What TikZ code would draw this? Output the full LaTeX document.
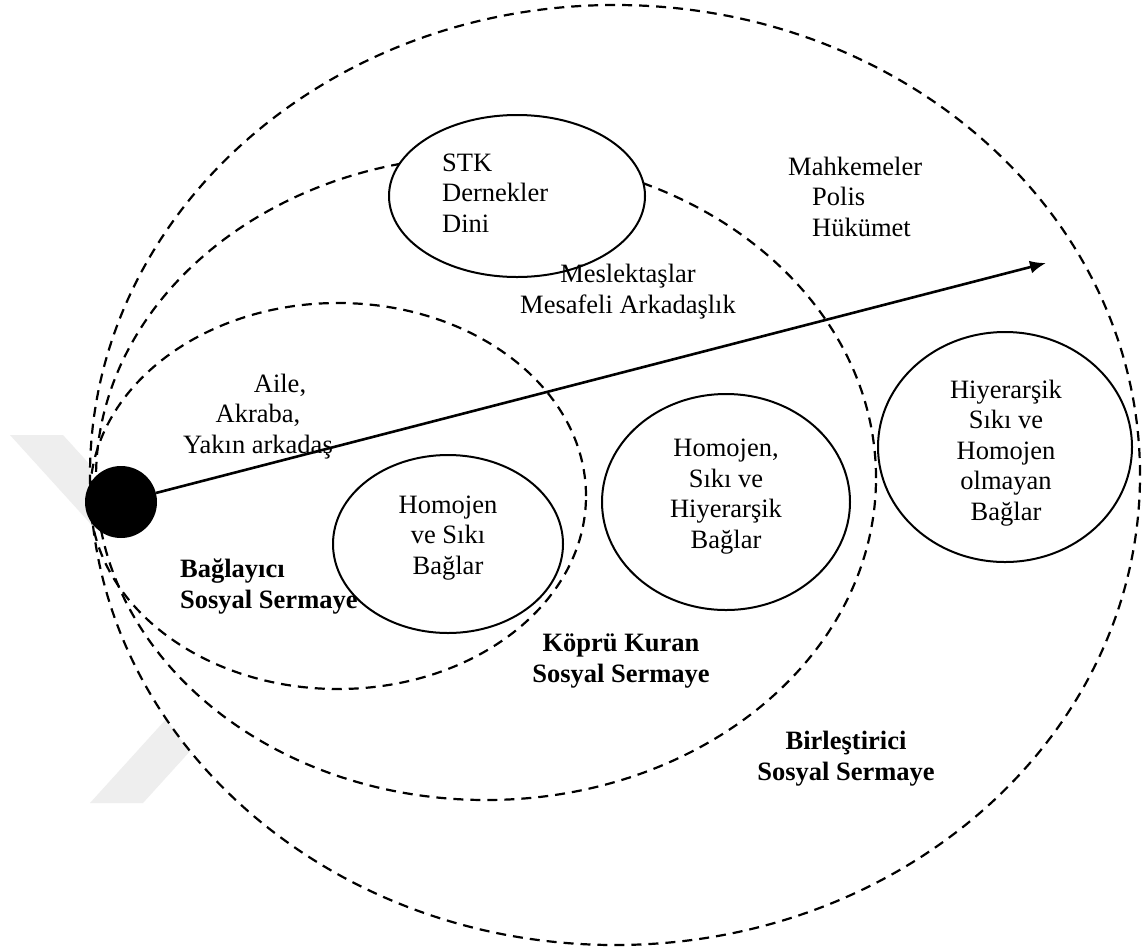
\documentclass[tikz,border=0pt]{standalone}
\usepackage{fontspec}
\setmainfont{Liberation Serif}
\usetikzlibrary{shapes.geometric,arrows.meta}
\definecolor{markgray}{gray}{0.935}
\begin{document}
\begin{tikzpicture}[x=1pt,y=-1pt,
  region/.style={ellipse, draw, dash pattern=on 10pt off 7pt, line width=2.2pt,
                 inner sep=0pt, outer sep=0pt},
  tiebox/.style={ellipse, draw, fill=white, line width=2pt, inner sep=0pt},
  lbl/.style={font=\fontsize{26.5}{30.5}\selectfont, inner sep=0pt, align=center},
  boldlbl/.style={lbl, font=\fontsize{26.5}{30.5}\selectfont\bfseries}]

\useasboundingbox[fill=white] (0,0) rectangle (1142,951);

% faint chevron mark behind the outer region
\fill[markgray] (10,435) -- (63,435) -- (270,663) -- (143,803) -- (90,803) -- (217,663) -- cycle;

% nested regions of social capital
\node[region, fill=white, minimum width=1050pt, minimum height=940pt] (birlestirici) at (615,475) {};
\node[region, minimum width=780pt, minimum height=644pt] (kopru) at (486,478) {};
\node[region, minimum width=496pt, minimum height=386pt] (baglayici) at (338,496) {};

% kinds of ties
\node[tiebox, minimum width=256pt, minimum height=162pt] (stk) at (517,196) {};
\node[tiebox, minimum width=230pt, minimum height=178pt] (homojen) at (448,544) {};
\node[tiebox, minimum width=248pt, minimum height=216pt] (hiyerarsik) at (726,502) {};
\node[tiebox, minimum width=254pt, minimum height=230pt] (olmayan) at (1005,447) {};

% individual and direction of widening ties
\node[circle, fill=black, minimum size=72pt, inner sep=0pt] (birey) at (121,502) {};
\coordinate (yon) at (1046,263);
\draw[line width=2.6pt, -{Latex[length=16pt,width=13pt]}] (birey) -- (yon);

% labels (anchored at the baseline of their last line)
\node[lbl, align=left, anchor=base west] (stktext) at (442,232) {STK\\Dernekler\\Dini};
\node[lbl, align=left, anchor=base west] (devlet) at (788,236) {Mahkemeler\\\hspace*{24pt}Polis\\\hspace*{24pt}Hükümet};
\node[lbl, anchor=base] (meslek) at (628,313) {Meslektaşlar\\Mesafeli Arkadaşlık};
\node[lbl, anchor=base] (aile) at (258,453) {\hspace*{44pt}Aile,\\Akraba,\\Yakın arkadaş};
\node[lbl, anchor=base] (t1) at (448,574) {Homojen\\ve Sıkı\\Bağlar};
\node[lbl, anchor=base] (t2) at (726,548) {Homojen,\\Sıkı ve\\Hiyerarşik\\Bağlar};
\node[lbl, anchor=base] (t3) at (1006,520) {Hiyerarşik\\Sıkı ve\\Homojen\\olmayan\\Bağlar};
\node[boldlbl, align=left, anchor=base west] (b1) at (180,608) {Bağlayıcı\\Sosyal Sermaye};
\node[boldlbl, anchor=base] (b2) at (621,682) {Köprü Kuran\\Sosyal Sermaye};
\node[boldlbl, anchor=base] (b3) at (846,780) {Birleştirici\\Sosyal Sermaye};
\end{tikzpicture}
\end{document}
